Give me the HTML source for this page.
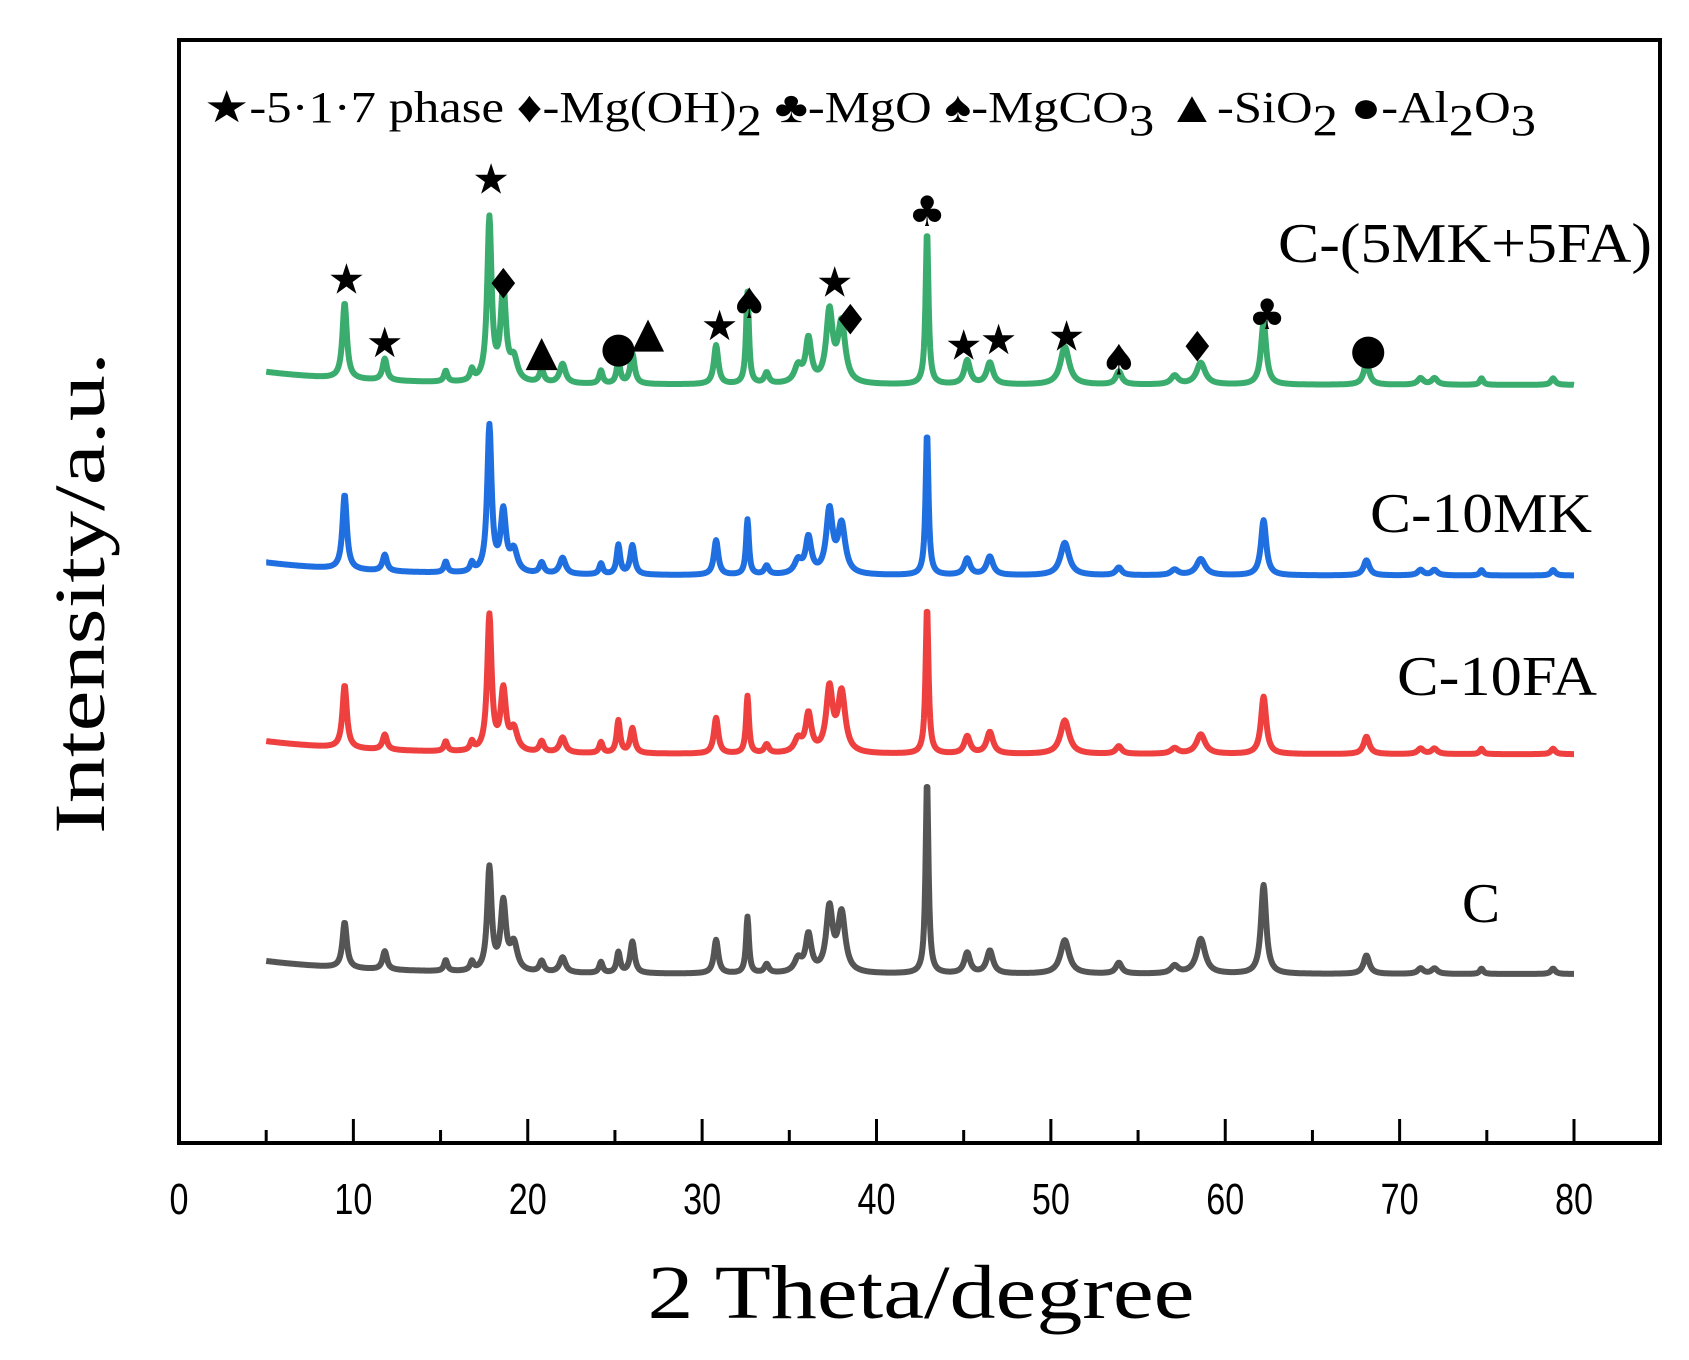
<!DOCTYPE html>
<html><head><meta charset="utf-8"><style>
html,body{margin:0;padding:0;background:#fff;}
svg{display:block;}
</style></head><body>
<svg id="chart" width="1689" height="1360" viewBox="0 0 1689 1360" xmlns="http://www.w3.org/2000/svg">
<rect x="0" y="0" width="1689" height="1360" fill="#fff"/>
<g id="series"></g>
<g id="markers"></g>
<rect x="179" y="40" width="1481" height="1103" fill="none" stroke="#000" stroke-width="4"/>
<g id="xaxis"></g>
<text x="204" y="122" font-family="Liberation Serif, serif" font-size="44" textLength="1332" lengthAdjust="spacingAndGlyphs">★-5·1·7 phase ♦-Mg(OH)<tspan dy="13">2</tspan><tspan dy="-13"> ♣-MgO ♠-MgCO</tspan><tspan dy="13">3</tspan><tspan dy="-13"> ▲-SiO</tspan><tspan dy="13">2</tspan><tspan dy="-13"> ●-Al</tspan><tspan dy="13">2</tspan><tspan dy="-13">O</tspan><tspan dy="13">3</tspan></text>
<text x="1278" y="262" font-family="Liberation Serif, serif" font-size="56" textLength="374" lengthAdjust="spacingAndGlyphs">C-(5MK+5FA)</text>
<text x="1370" y="532" font-family="Liberation Serif, serif" font-size="56" textLength="222" lengthAdjust="spacingAndGlyphs">C-10MK</text>
<text x="1397" y="695" font-family="Liberation Serif, serif" font-size="56" textLength="200" lengthAdjust="spacingAndGlyphs">C-10FA</text>
<text x="1462" y="922" font-family="Liberation Serif, serif" font-size="56" textLength="38" lengthAdjust="spacingAndGlyphs">C</text>
<text transform="translate(104,593) rotate(-90)" text-anchor="middle" font-family="Liberation Serif, serif" font-size="72" textLength="482" lengthAdjust="spacingAndGlyphs">Intensity/a.u.</text>
<text x="921" y="1318" text-anchor="middle" font-family="Liberation Serif, serif" font-size="76" textLength="547" lengthAdjust="spacingAndGlyphs">2 Theta/degree</text>
</svg>
<script>
const ticks=[0,10,20,30,40,50,60,70,80];
const minorTicks=[5,15,25,35,45,55,65,75];
const peakPos=[9.5,11.8,15.3,16.8,17.8,18.6,19.2,20.8,22.0,24.2,25.2,26.0,30.8,32.6,33.7,35.5,36.1,37.3,38.0,42.9,45.2,46.5,50.8,53.9,57.1,58.6,62.2,68.1,71.2,72.0,74.7,78.8];
const peakWidth=[0.15,0.15,0.12,0.12,0.15,0.18,0.25,0.15,0.2,0.12,0.12,0.15,0.15,0.1,0.15,0.25,0.2,0.22,0.25,0.1,0.2,0.22,0.3,0.2,0.25,0.3,0.18,0.2,0.2,0.2,0.12,0.15];
const greenH=[70,20,10,10,150,85,20,12,18,12,22,28,36,85,10,15,40,65,55,142,22,20,35,12,8,20,58,20,6,6,6,6];
const blueH=[69,15,10,8,135,55,20,10,15,10,27,27,32,51,8,12,33,58,45,132,15,17,30,7,5,15,51,14,5,5,5,5];
const redH=[58,14,9,8,125,55,20,10,14,10,30,23,33,53,8,12,35,58,55,136,16,20,31,7,5,18,53,16,5,5,5,5];
const grayH=[42,17,10,8,95,62,25,10,14,10,19,29,31,52,8,12,34,58,54,179,19,21,31,10,7,32,82,17,5,5,5,5];
const seriesNames=['c','c-10fa','c-10mk','c-5mk-5fa'];
const seriesBase=[156,359,524,700];
const seriesColor=['#555555','#ef4040','#1f6fe0','#3aad6e'];
const seriesH=[grayH,redH,blueH,greenH];
const markerSym=['★','★','★','♦','▲','●','▲','★','♠','★','♦','♣','★','★','★','♠','♦','♣','●'];
const markerAngle=[9.6,11.8,17.9,18.6,20.8,25.2,26.9,31.0,32.7,37.6,38.5,42.9,45.0,47.0,50.9,53.9,58.4,62.4,68.2];
const markerTop=[257,316,165,262,323,320,306,300,280,260,295,195,318,313,310,332,320,290,322];
const NS='http://www.w3.org/2000/svg';
const X0=179,X1=1574,B=1143,K=1.083;
function xs(t){return X0+(X1-X0)*t/80;}
function ys(v){return B-v*K;}
const gx=document.getElementById('xaxis');
ticks.forEach(t=>{
  const l=document.createElementNS(NS,'line');
  
  
  l.setAttribute('x1',xs(t));l.setAttribute('x2',xs(t));l.setAttribute('y1',B);l.setAttribute('y2',B-24);
  l.setAttribute('stroke','#000');l.setAttribute('stroke-width','3');gx.appendChild(l);
  const tx=document.createElementNS(NS,'text');
  
  
  tx.setAttribute('x',xs(t));tx.setAttribute('y',1214);tx.setAttribute('text-anchor','middle');
  tx.setAttribute('font-family','Liberation Sans, sans-serif');tx.setAttribute('font-size','44');
  tx.setAttribute('textLength',String(t).length*19);tx.setAttribute('lengthAdjust','spacingAndGlyphs');
  tx.textContent=t;gx.appendChild(tx);
});
minorTicks.forEach(t=>{
  const l=document.createElementNS(NS,'line');
  
  
  l.setAttribute('x1',xs(t));l.setAttribute('x2',xs(t));l.setAttribute('y1',B);l.setAttribute('y2',B-13);
  l.setAttribute('stroke','#000');l.setAttribute('stroke-width','3');gx.appendChild(l);
});
const gs=document.getElementById('series');
seriesNames.forEach((n,i)=>{
  let d='';
  for(let t=5;t<=80.001;t+=0.04){
    let v=seriesBase[i]+12*Math.exp(-(t-5)/6);
    const H=seriesH[i];
    for(let k=0;k<peakPos.length;k++){const w=peakWidth[k];const dx=(t-peakPos[k])/w;v+=H[k]/(1+dx*dx);}
    d+=(d?'L':'M')+xs(t).toFixed(1)+','+ys(v).toFixed(1);
  }
  const p=document.createElementNS(NS,'path');
  
  
  p.setAttribute('d',d);p.setAttribute('fill','none');p.setAttribute('stroke',seriesColor[i]);
  p.setAttribute('stroke-width','6');p.setAttribute('stroke-linejoin','round');
  gs.appendChild(p);
});
const gm=document.getElementById('markers');
markerSym.forEach((s,i)=>{
  const tx=document.createElementNS(NS,'text');
  
  
  tx.setAttribute('x',xs(markerAngle[i]));tx.setAttribute('y',markerTop[i]*K+15);
  tx.setAttribute('text-anchor','middle');tx.setAttribute('font-family','DejaVu Sans, sans-serif');
  tx.setAttribute('font-size','42');tx.textContent=s;gm.appendChild(tx);
});
</script>
</body></html>
